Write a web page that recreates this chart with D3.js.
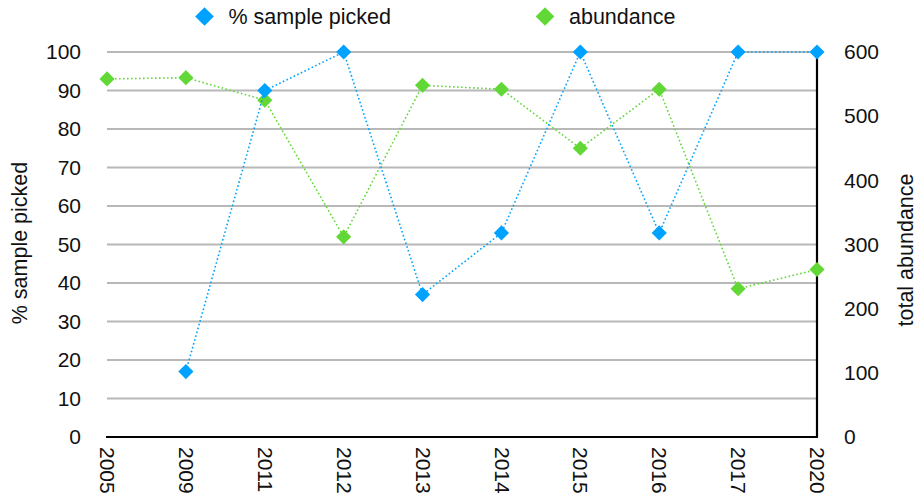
<!DOCTYPE html>
<html>
<head>
<meta charset="utf-8">
<script src="https://cdn.jsdelivr.net/npm/d3@7"></script>
<style>
  body { margin: 0; background: #fff; }
  svg { display: block; font-family: "Liberation Sans", Arial, Helvetica, sans-serif; }
</style>
</head>
<body>
<svg id="chart" width="918" height="498"></svg>
<script>
// Survey years
const years = ["2005", "2009", "2011", "2012", "2013", "2014", "2015", "2016", "2017", "2020"];
// % of each sample that was picked (no value for 2005)
const pctPicked = [null, 17, 90, 100, 37, 53, 100, 53, 100, 100];
// total abundance per year
const abundance = [558, 560, 525, 312, 548, 542, 450, 542, 231, 261];
// axis ticks
const leftTicks = [0, 10, 20, 30, 40, 50, 60, 70, 80, 90, 100];
const rightTicks = [0, 100, 200, 300, 400, 500, 600];

const blue = "#00a2ff";
const green = "#61d836";
const textColor = "#111";
const fs = 21;

const svg = d3.select("#chart");
const margin = { left: 107, right: 101, top: 52, bottom: 61 };
const W = 918, H = 498;

const x = d3.scalePoint().domain(years).range([margin.left, W - margin.right]);
const yL = d3.scaleLinear().domain([0, 100]).range([H - margin.bottom, margin.top]);
const yR = d3.scaleLinear().domain([0, 600]).range([H - margin.bottom, margin.top]);

// horizontal gridlines
svg.append("g").selectAll("line").data(leftTicks.filter(d => d > 0)).join("line")
  .attr("x1", margin.left).attr("x2", W - margin.right)
  .attr("y1", d => yL(d)).attr("y2", d => yL(d))
  .attr("stroke", "#b8b8b8").attr("stroke-width", 2);

// left axis labels
const leftAxis = d3.axisLeft(yL).tickValues(leftTicks).tickSize(0).tickPadding(0);
svg.append("g").attr("transform", `translate(${margin.left - 26},0)`).call(leftAxis)
  .call(g => g.select(".domain").remove())
  .selectAll("text").attr("font-size", fs).attr("fill", textColor).attr("font-family", null);

// right axis labels
const rightAxis = d3.axisRight(yR).tickValues(rightTicks).tickSize(0).tickPadding(0);
svg.append("g").attr("transform", `translate(${W - margin.right + 27},0)`).call(rightAxis)
  .call(g => g.select(".domain").remove())
  .selectAll("text").attr("font-size", fs).attr("fill", textColor).attr("font-family", null);

// x axis labels, rotated to read downward
const xAxis = d3.axisBottom(x).tickSize(0).tickPadding(0);
svg.append("g").attr("transform", `translate(0,${H - margin.bottom})`).call(xAxis)
  .call(g => g.select(".domain").remove())
  .selectAll("text")
  .attr("font-size", fs).attr("fill", textColor).attr("font-family", null)
  .attr("text-anchor", "start")
  .attr("dy", "0.35em").attr("y", 0)
  .attr("transform", "translate(0,10) rotate(90)");

// baseline and right axis line
svg.append("line")
  .attr("x1", margin.left - 1).attr("x2", W - margin.right + 1)
  .attr("y1", yL(0)).attr("y2", yL(0))
  .attr("stroke", "#000").attr("stroke-width", 2.2);
svg.append("line")
  .attr("x1", W - margin.right).attr("x2", W - margin.right)
  .attr("y1", yR(600)).attr("y2", yR(0))
  .attr("stroke", "#000").attr("stroke-width", 2.2);

// axis titles
svg.append("text")
  .attr("transform", `translate(27,243) rotate(-90)`)
  .attr("text-anchor", "middle").attr("font-size", 21.5).attr("fill", textColor)
  .text("% sample picked");
svg.append("text")
  .attr("transform", `translate(913,250) rotate(-90)`)
  .attr("text-anchor", "middle").attr("font-size", 21.5).attr("fill", textColor)
  .text("total abundance");

const pointDiamond = d3.symbol().type(d3.symbolSquare).size(115);
const legendDiamond = d3.symbol().type(d3.symbolSquare).size(175);

function drawSeries(values, yScale, color) {
  const pts = years.map((yr, i) => ({ yr, v: values[i] })).filter(d => d.v != null);
  const line = d3.line().x(d => x(d.yr)).y(d => yScale(d.v));
  svg.append("path").datum(pts)
    .attr("d", line).attr("fill", "none")
    .attr("stroke", color).attr("stroke-width", 1.6)
    .attr("stroke-dasharray", "1.6 2.4");
  svg.append("g").selectAll("path").data(pts).join("path")
    .attr("d", pointDiamond)
    .attr("transform", d => `translate(${x(d.yr)},${yScale(d.v)}) rotate(45)`)
    .attr("fill", color);
}

drawSeries(abundance, yR, green);
drawSeries(pctPicked, yL, blue);

// legend
const legend = [
  { label: "% sample picked", color: blue, x: 204.5 },
  { label: "abundance", color: green, x: 545 }
];
const lg = svg.append("g").selectAll("g").data(legend).join("g")
  .attr("transform", d => `translate(${d.x},16.5)`);
lg.append("path").attr("d", legendDiamond).attr("transform", "rotate(45)").attr("fill", d => d.color);
lg.append("text").attr("x", 24).attr("y", 7.5)
  .attr("font-size", 21.5).attr("fill", textColor).text(d => d.label);
</script>
</body>
</html>
